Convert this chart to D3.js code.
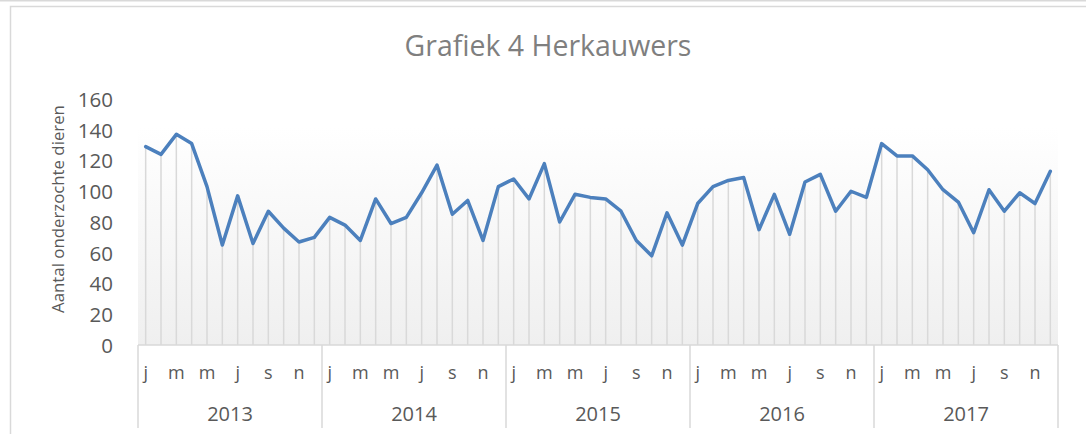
<!DOCTYPE html>
<html>
<head>
<meta charset="utf-8">
<script src="https://cdn.jsdelivr.net/npm/d3@7"></script>
<style>
  body { margin: 0; background: #fff; }
  text { font-family: "Open Sans", "Noto Sans", sans-serif; }
</style>
</head>
<body>
<svg id="chart"></svg>
<script>
var width = 1086;
var height = 434;

// data
var years = ["2013", "2014", "2015", "2016", "2017"];
var months = ["j", "f", "m", "a", "m", "j", "j", "a", "s", "o", "n", "d"];
var values = [
  129, 124, 137, 131, 103, 65, 97, 66, 87, 76, 67, 70,
  83, 78, 68, 95, 79, 83, 99, 117, 85, 94, 68, 103,
  108, 95, 118, 80, 98, 96, 95, 87, 68, 58, 86, 65,
  92, 103, 107, 109, 75, 98, 72, 106, 111, 87, 100, 96,
  131, 123, 123, 114, 101, 93, 73, 101, 87, 99, 92, 113
];
var yTicks = [0, 20, 40, 60, 80, 100, 120, 140, 160];

var plot = {left: 138, right: 1058, top: 99, bottom: 345};
var textColor = "#595959";
var gridColor = "#d9d9d9";

var svg = d3.select("#chart")
  .attr("width", width)
  .attr("height", height);

// frame lines
svg.append("line")
  .attr("x1", 0).attr("x2", width).attr("y1", 0.5).attr("y2", 0.5)
  .attr("stroke", gridColor).attr("stroke-width", 2);
svg.append("path")
  .attr("d", "M10.5," + (height + 2) + "V6.5H" + (width + 2))
  .attr("fill", "none").attr("stroke", gridColor).attr("stroke-width", 1.5);

// scales
var x = d3.scaleBand()
  .domain(d3.range(values.length))
  .range([plot.left, plot.right])
  .padding(0);

var y = d3.scaleLinear()
  .domain([0, 160])
  .range([plot.bottom, plot.top]);

var cx = function(i) { return x(i) + x.bandwidth() / 2; };

// plot area background gradient
var grad = svg.append("defs").append("linearGradient")
  .attr("id", "bg").attr("x1", 0).attr("x2", 0).attr("y1", 0).attr("y2", 1);
grad.append("stop").attr("offset", "0%").attr("stop-color", "#ffffff");
grad.append("stop").attr("offset", "100%").attr("stop-color", "#efefef");

svg.append("rect")
  .attr("x", plot.left).attr("y", y(141.5))
  .attr("width", plot.right - plot.left)
  .attr("height", plot.bottom - y(141.5))
  .attr("fill", "url(#bg)");

// title
var title = svg.append("text")
  .attr("x", 548).attr("y", 56)
  .attr("text-anchor", "middle")
  .attr("fill", "#7f7f7f")
  .style("font-size", "24px")
  .text("Grafiek 4 Herkauwers");
var tw = title.node().getComputedTextLength();
title.style("font-size", (24 * 287 / tw) + "px");

// y axis
var yAxis = svg.append("g")
  .attr("transform", "translate(" + plot.left + ",0)")
  .call(d3.axisLeft(y).tickValues(yTicks).tickSize(0).tickPadding(25));
yAxis.select(".domain").remove();
yAxis.selectAll("text")
  .attr("fill", textColor)
  .style("font-size", "20.5px")
  .attr("dy", "0.36em");

// y axis title
var yTitle = svg.append("text")
  .attr("transform", "translate(64,209) rotate(-90)")
  .attr("text-anchor", "middle")
  .attr("fill", textColor)
  .style("font-size", "16px")
  .text("Aantal onderzochte dieren");
var yw = yTitle.node().getComputedTextLength();
yTitle.style("font-size", (16 * 208 / yw) + "px");

// drop lines
svg.append("g").selectAll("line")
  .data(values)
  .join("line")
  .attr("x1", function(d, i) { return cx(i); })
  .attr("x2", function(d, i) { return cx(i); })
  .attr("y1", function(d) { return y(d); })
  .attr("y2", y(0))
  .attr("stroke", gridColor)
  .attr("stroke-width", 1.5);

// category axis line
svg.append("line")
  .attr("x1", plot.left).attr("x2", plot.right)
  .attr("y1", y(0)).attr("y2", y(0))
  .attr("stroke", gridColor).attr("stroke-width", 1.5);

// year separators
var yearWidth = x.bandwidth() * 12;
svg.append("g").selectAll("line")
  .data(d3.range(years.length + 1))
  .join("line")
  .attr("x1", function(d) { return plot.left + d * yearWidth; })
  .attr("x2", function(d) { return plot.left + d * yearWidth; })
  .attr("y1", y(0)).attr("y2", 428)
  .attr("stroke", gridColor).attr("stroke-width", 1.5);

// month labels (every second month)
var monthIdx = d3.range(values.length).filter(function(i) { return i % 2 === 0; });
svg.append("g").selectAll("text")
  .data(monthIdx)
  .join("text")
  .attr("x", function(i) { return cx(i); })
  .attr("y", 379)
  .attr("text-anchor", "middle")
  .attr("fill", textColor)
  .style("font-size", "18px")
  .text(function(i) { return months[i % 12]; });

// year labels
svg.append("g").selectAll("text")
  .data(years)
  .join("text")
  .attr("x", function(d, i) { return plot.left + (i + 0.5) * yearWidth; })
  .attr("y", 421)
  .attr("text-anchor", "middle")
  .attr("fill", textColor)
  .style("font-size", "20px")
  .text(function(d) { return d; });

// series line
var line = d3.line()
  .x(function(d, i) { return cx(i); })
  .y(function(d) { return y(d); });

svg.append("path")
  .datum(values)
  .attr("d", line)
  .attr("fill", "none")
  .attr("stroke", "#4c80bd")
  .attr("stroke-width", 3.5)
  .attr("stroke-linejoin", "round")
  .attr("stroke-linecap", "round");
</script>
</body>
</html>
